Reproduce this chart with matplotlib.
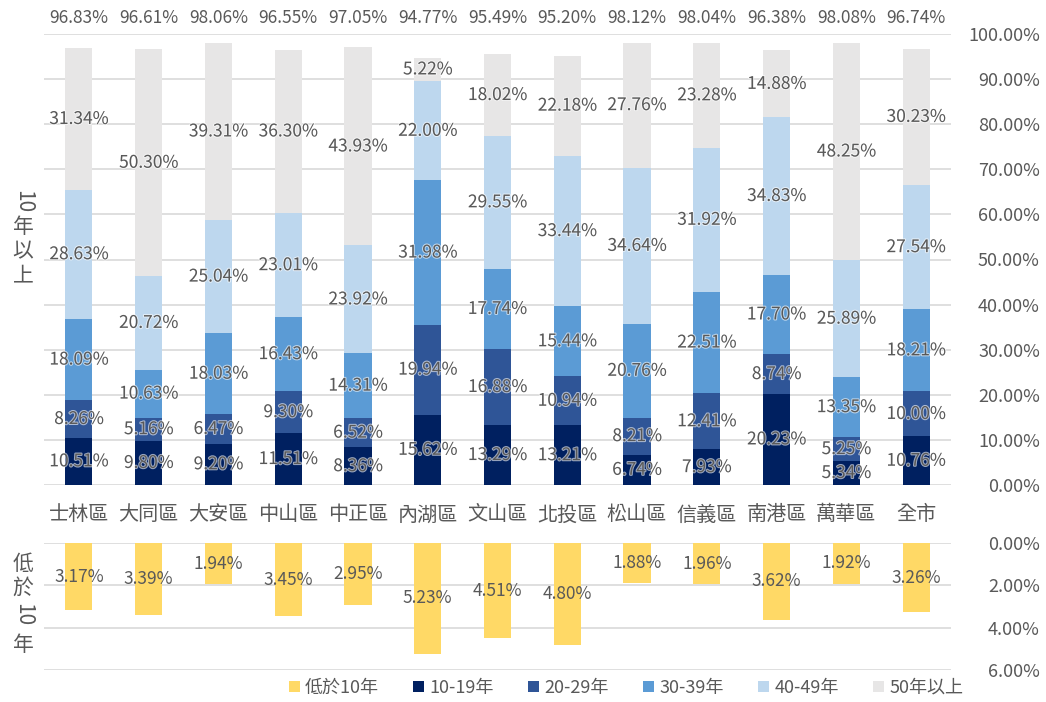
import matplotlib
matplotlib.use('Agg')
import matplotlib.pyplot as plt
import matplotlib.patheffects as pe
import numpy as np

plt.rcParams['font.family'] = ['Noto Sans CJK TC', 'DejaVu Sans']

districts = ['士林區', '大同區', '大安區', '中山區', '中正區', '內湖區', '文山區',
             '北投區', '松山區', '信義區', '南港區', '萬華區', '全市']
totals = [96.83, 96.61, 98.06, 96.55, 97.05, 94.77, 95.49, 95.20, 98.12, 98.04, 96.38, 98.08, 96.74]
y10_19 = [10.51, 9.80, 9.20, 11.51, 8.36, 15.62, 13.29, 13.21, 6.74, 7.93, 20.23, 5.34, 10.76]
y20_29 = [8.26, 5.16, 6.47, 9.30, 6.52, 19.94, 16.88, 10.94, 8.21, 12.41, 8.74, 5.25, 10.00]
y30_39 = [18.09, 10.63, 18.03, 16.43, 14.31, 31.98, 17.74, 15.44, 20.76, 22.51, 17.70, 13.35, 18.21]
y40_49 = [28.63, 20.72, 25.04, 23.01, 23.92, 22.00, 29.55, 33.44, 34.64, 31.92, 34.83, 25.89, 27.54]
y50_up = [31.34, 50.30, 39.31, 36.30, 43.93, 5.22, 18.02, 22.18, 27.76, 23.28, 14.88, 48.25, 30.23]
below10 = [3.17, 3.39, 1.94, 3.45, 2.95, 5.23, 4.51, 4.80, 1.88, 1.96, 3.62, 1.92, 3.26]

series_names = ['10-19年', '20-29年', '30-39年', '40-49年', '50年以上']
series_vals = [y10_19, y20_29, y30_39, y40_49, y50_up]
colors = ['#002060', '#2F5597', '#5B9BD5', '#BDD7EE', '#E7E6E6']
yellow = '#FFD966'
grey_txt = '#595959'
grid_c = '#D9D9D9'

W, H = 1046, 702
fig = plt.figure(figsize=(W / 100, H / 100), dpi=100)

x = np.arange(len(districts))
bw = 0.39
halo = [pe.withStroke(linewidth=1.5, foreground='white', alpha=0.6)]

# top panel
ax = fig.add_axes([44 / W, 1 - 485 / H, (951 - 44) / W, (485 - 34) / H])
bottom = np.zeros(len(districts))
handles = []
for name, vals, c in zip(series_names, series_vals, colors):
    v = np.array(vals) / 100
    b = ax.bar(x, v, bw, bottom=bottom, color=c, label=name, zorder=2)
    handles.append(b)
    for xi, bi, vi in zip(x, bottom, v):
        ax.text(xi, bi + vi / 2, f'{vi * 100:.2f}%', ha='center', va='center',
                fontsize=12.5, color=grey_txt, path_effects=halo, zorder=3)
    bottom += v

for xi, t in zip(x, totals):
    ax.text(xi, 1.035, f'{t:.2f}%', ha='center', va='center', fontsize=12.5,
            color=grey_txt, transform=ax.get_xaxis_transform(), clip_on=False)

ax.set_xlim(-0.5, len(districts) - 0.5)
ax.set_ylim(0, 1)
ax.set_yticks(np.arange(0, 1.01, 0.1))
ax.set_yticklabels([f'{v * 100:.2f}%' for v in np.arange(0, 1.01, 0.1)])
ax.yaxis.tick_right()
ax.tick_params(axis='y', length=0, pad=64, labelsize=13, labelcolor=grey_txt)
for lab in ax.get_yticklabels():
    lab.set_horizontalalignment('right')
ax.set_xticks(x)
ax.set_xticklabels(districts)
ax.tick_params(axis='x', length=0, pad=14, labelsize=14.5, labelcolor=grey_txt)
ax.grid(axis='y', color=grid_c, linewidth=1.2, zorder=0)
for s in ax.spines.values():
    s.set_visible(False)

# bottom panel
ax2 = fig.add_axes([44 / W, 1 - 670 / H, (951 - 44) / W, (670 - 543) / H])
b10 = ax2.bar(x, below10, bw, color=yellow, label='低於10年', zorder=2)
for xi, v in zip(x, below10):
    ax2.text(xi, v / 2, f'{v:.2f}%', ha='center', va='center', fontsize=12.5,
             color=grey_txt, zorder=3)
ax2.set_xlim(-0.5, len(districts) - 0.5)
ax2.set_ylim(6, 0)
ax2.set_yticks([0, 2, 4, 6])
ax2.set_yticklabels([f'{v:.2f}%' for v in [0, 2, 4, 6]])
ax2.yaxis.tick_right()
ax2.tick_params(axis='y', length=0, pad=64, labelsize=13, labelcolor=grey_txt)
for lab in ax2.get_yticklabels():
    lab.set_horizontalalignment('right')
ax2.set_xticks([])
ax2.grid(axis='y', color=grid_c, linewidth=1.2, zorder=0)
for s in ax2.spines.values():
    s.set_visible(False)

# stacked vertical side labels
def vlabel(parts, xpix):
    for txt, ypix in parts:
        rot = -90 if txt.isdigit() else 0
        fig.text(xpix / W, 1 - ypix / H, txt, ha='center', va='center',
                 rotation=rot, fontsize=15, color=grey_txt)

vlabel([('10', 202), ('年', 227), ('以', 251), ('上', 275)], 23)
vlabel([('低', 564), ('於', 588), ('10', 615), ('年', 645)], 23)

fig.legend([b10] + handles, ['低於10年'] + series_names, loc='center',
           bbox_to_anchor=(626 / W, 1 - 688 / H), ncol=6, frameon=False,
           fontsize=13, handlelength=0.6, handleheight=0.6, handletextpad=0.3,
           columnspacing=1.9, labelcolor=grey_txt)

fig.savefig('out.png', dpi=100)
